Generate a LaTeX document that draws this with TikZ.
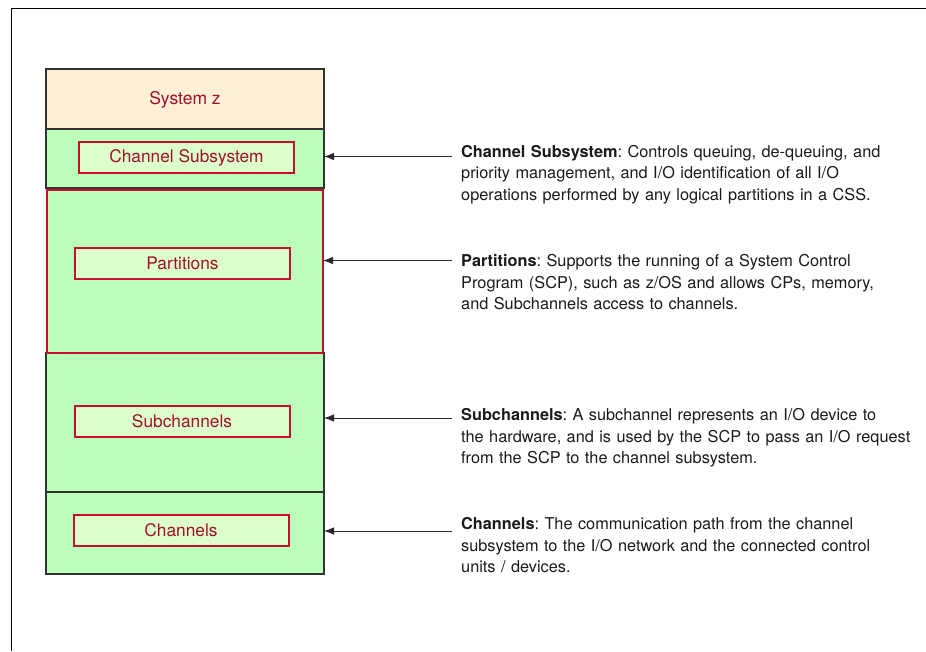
\documentclass[tikz,border=0pt]{standalone}
\usepackage{fontspec}
\setmainfont{TeX Gyre Heros}
\usetikzlibrary{arrows.meta}
\definecolor{peach}{HTML}{FEEFD6}
\definecolor{lgreen}{HTML}{BBFFBB}
\definecolor{pale}{HTML}{DDFFCC}
\definecolor{boxred}{HTML}{C4102C}
\definecolor{labred}{HTML}{A0102A}
\definecolor{txt}{HTML}{1A1A1A}
\tikzset{
  section/.style={rectangle, draw=black!80, line width=1.4pt, fill=lgreen,
    minimum width=278pt, inner sep=0pt, outer sep=0pt},
  inbox/.style={rectangle, draw=boxred, line width=2pt, fill=pale,
    minimum width=215pt, minimum height=31pt, inner sep=0pt,
    text=labred, font=\fontsize{17.3}{20}\selectfont},
  desc/.style={anchor=base west, inner sep=0pt, text width=460pt, align=left,
    text=txt, font=\fontsize{16.3}{21.6}\selectfont\frenchspacing},
  conn/.style={draw=black!85, line width=0.9pt, -{Latex[length=10pt,width=7.5pt]}},
  frameline/.style={draw=black, line width=1pt}
}
\begin{document}
\begin{tikzpicture}[x=1pt,y=-1pt]
\useasboundingbox (0,0) rectangle (926,651);
\draw[frameline] (926,8) -- (11,8) -- (11,651);

% stack sections
\node[section, fill=peach, minimum height=60pt] (sysz) at (185,99) {};
\node[text=labred, font=\fontsize{17.5}{20}\selectfont] (syszl) at (185,100) {System z};
\node[section, minimum height=59pt] (css) at (185,158.5) {};
\node[section, minimum height=139pt] (sub) at (185,422.5) {};
\node[section, minimum height=82pt] (chan) at (185,533) {};
\node[section, draw=boxred, line width=2.2pt, minimum width=276pt, minimum height=163pt] (part) at (185,271.5) {};

% inner boxes
\node[inbox] (cssb) at (186.5,157.5) {Channel Subsystem};
\node[inbox] (partb) at (182.5,263.5) {Partitions};
\node[inbox] (subb) at (182,421.5) {Subchannels};
\node[inbox] (chanb) at (181,530.5) {Channels};

% descriptions
\node[desc] (dcss) at (461,157.3) {\textbf{Channel Subsystem}: Controls queuing, de-queuing, and\\
priority management, and I/O identification of all I/O\\
operations performed by any logical partitions in a CSS.};
\node[desc] (dpart) at (461,266.7) {\textbf{Partitions}: Supports the running of a System Control\\
Program (SCP), such as z/OS and allows CPs, memory,\\
and Subchannels access to channels.};
\node[desc] (dsub) at (461,420.7) {\textbf{Subchannels}: A subchannel represents an I/O device to\\
the hardware, and is used by the SCP to pass an I/O request\\
from the SCP to the channel subsystem.};
\node[desc] (dchan) at (461,529.4) {\textbf{Channels}: The communication path from the channel\\
subsystem to the I/O network and the connected control\\
units / devices.};

% connectors
\coordinate (acss) at (452,156.5);
\coordinate (apart) at (452,260.5);
\coordinate (asub) at (452,418);
\coordinate (achan) at (452,531);
\draw[conn] (acss) -- (acss -| css.east);
\draw[conn] (apart) -- (apart -| part.east);
\draw[conn] (asub) -- (asub -| sub.east);
\draw[conn] (achan) -- (achan -| chan.east);
\end{tikzpicture}
\end{document}
